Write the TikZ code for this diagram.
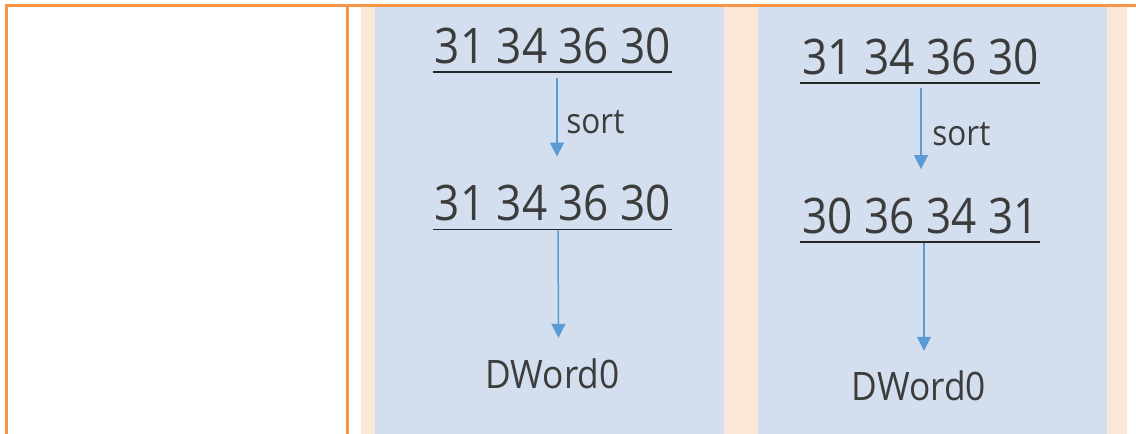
\documentclass[tikz,border=0pt]{standalone}
\usepackage{fontspec}
\setmainfont{Open Sans}
\newfontfamily\numfont[FakeStretch=0.9]{Open Sans}
\usetikzlibrary{arrows.meta,calc}
\definecolor{borderorange}{HTML}{F79646}
\definecolor{peach}{RGB}{251,231,216}
\definecolor{panelblue}{RGB}{211,222,238}
\definecolor{arrowblue}{RGB}{91,155,213}
\definecolor{txt}{RGB}{60,60,60}
\tikzset{
  border/.style={draw=borderorange,line width=1.7pt},
  numrow/.style={inner sep=0pt,text=txt,font=\numfont\fontsize{24.5}{26}\selectfont},
  lbl/.style={inner sep=0pt,text=txt,font=\numfont\fontsize{17.5}{19}\selectfont},
  word/.style={inner sep=0pt,text=txt,font=\numfont\fontsize{19.6}{22}\selectfont},
  uline/.style={draw=black!85,line width=0.85pt},
  arr/.style={draw=arrowblue,line width=0.75pt,-{Triangle[width=7pt,length=7pt]}}
}
\begin{document}
\begin{tikzpicture}[x=0.5pt,y=-0.5pt]
\useasboundingbox (0,0) rectangle (1136,434);
% backgrounds
\fill[peach] (361,7) rectangle (1127,434);
\fill[panelblue] (375,6) rectangle (724,434);
\fill[panelblue] (758,6) rectangle (1107,434);
% orange table borders
\draw[border] (5,5.5) -- (1136,5.5);
\draw[border] (6.3,4) -- (6.3,434);
\draw[border] (347.5,4) -- (347.5,434);

% panel 1
\node[numrow] (t1) at (553,45.5) {31 34 36 30};
\node[numrow] (t2) at (553,203) {31 34 36 30};
\node[lbl,anchor=base west] (s1) at (566,133) {sort};
\node[word,anchor=base] (d1) at (552.5,388) {DWord0};
\draw[uline] ($(t1.south west)+(-2,8)$) -- ($(t1.south east)+(1,8)$);
\draw[uline] ($(t2.south west)+(-2,8)$) -- ($(t2.south east)+(1,8)$);
\draw[arr] ([xshift=2pt,yshift=-7pt]t1.south) -- ([xshift=2pt,yshift=14pt]t2.north);
\draw[arr] ([xshift=2.5pt,yshift=-4.5pt]t2.south) -- ([xshift=3pt,yshift=10pt]d1.north);

% panel 2
\node[numrow] (t3) at (920.5,56.5) {31 34 36 30};
\node[numrow] (t4) at (920.5,215.5) {30 36 34 31};
\node[lbl,anchor=base west] (s2) at (932,145) {sort};
\node[word,anchor=base] (d2) at (919,400) {DWord0};
\draw[uline] ($(t3.south west)+(-2,8)$) -- ($(t3.south east)+(1,8)$);
\draw[uline] ($(t4.south west)+(-2,8)$) -- ($(t4.south east)+(1,8)$);
\draw[arr] ([xshift=0.25pt,yshift=-6.5pt]t3.south) -- ([xshift=0.25pt,yshift=14pt]t4.north);
\draw[arr] ([xshift=1.75pt,yshift=-4.5pt]t4.south) -- ([xshift=2.5pt,yshift=9.5pt]d2.north);
\end{tikzpicture}
\end{document}
